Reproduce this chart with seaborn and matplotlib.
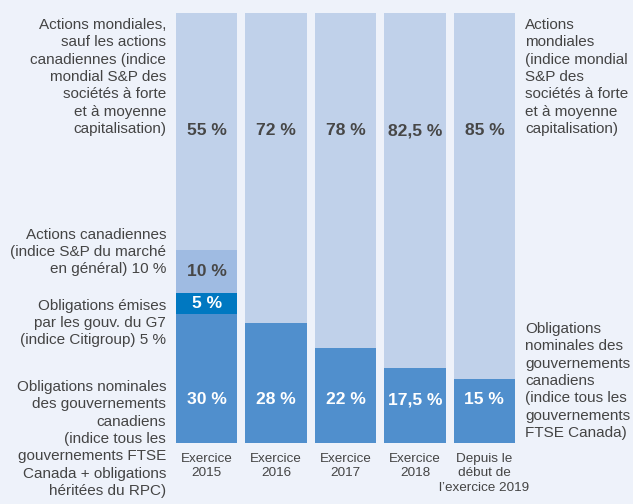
import numpy as np
import pandas as pd
import seaborn as sns
import matplotlib.pyplot as plt

# allocation data (percent)
periods = ["Exercice\n2015", "Exercice\n2016", "Exercice\n2017", "Exercice\n2018",
           "Depuis le\ndébut de\nl\u2019exercice 2019"]
bonds_cdn = [30, 28, 22, 17.5, 15]
bonds_g7 = [5, 0, 0, 0, 0]
equity_cdn = [10, 0, 0, 0, 0]
equity_world = [55, 72, 78, 82.5, 85]

df = pd.DataFrame({"period": periods, "bonds_cdn": bonds_cdn, "bonds_g7": bonds_g7,
                   "equity_cdn": equity_cdn, "equity_world": equity_world})

sns.set_style("white")
plt.rcParams['font.family'] = ['Liberation Sans', 'DejaVu Sans']

bg = "#eef2fa"
txt = "#444444"
fig = plt.figure(figsize=(6.33, 5.04), dpi=100, facecolor=bg)
ax = fig.add_axes([176 / 633, 1 - 443 / 504, (515 - 176) / 633, 430 / 504])
ax.set_facecolor(bg)

layers = [("bonds_cdn", "#508fcd"), ("bonds_g7", "#0078c1"),
          ("equity_cdn", "#9fbbe2"), ("equity_world", "#c0d1ea")]
bottom = np.zeros(len(df))
for col, color in layers:
    sns.barplot(data=df, x="period", y=col, color=color, width=0.88,
                bottom=bottom, ax=ax, saturation=1, linewidth=0)
    bottom = bottom + df[col].values

ax.set_xlim(-0.44, 4.44)
ax.set_ylim(0, 100)
ax.set_xlabel("")
ax.set_ylabel("")
ax.set_yticks([])
ax.tick_params(axis="x", length=0, pad=7, labelsize=9.7, labelcolor=txt)
for t in ax.get_xticklabels():
    t.set_linespacing(1.3)
for s in ax.spines.values():
    s.set_visible(False)


def fmt(v):
    return f"{v:g}".replace(".", ",") + " %"


pct_kw = dict(ha="center", va="center", fontsize=12.6, fontweight="bold")
for i in range(len(df)):
    ax.text(i, 72.6, fmt(equity_world[i]), color="#474747", **pct_kw)
    ax.text(i, 10, fmt(bonds_cdn[i]), color="white", **pct_kw)
    if equity_cdn[i]:
        ax.text(i, bonds_cdn[i] + bonds_g7[i] + equity_cdn[i] / 2, fmt(equity_cdn[i]),
                color="#474747", **pct_kw)
    if bonds_g7[i]:
        ax.text(i, bonds_cdn[i] + bonds_g7[i] / 2, fmt(bonds_g7[i]), color="white", **pct_kw)

lab_kw = dict(fontsize=11, color=txt, linespacing=1.3)
left_x = 166 / 633
fig.text(left_x, 1 - 77 / 504,
         "Actions mondiales,\nsauf les actions\ncanadiennes (indice\nmondial S&P des\n"
         "sociétés à forte\net à moyenne\ncapitalisation)",
         ha="right", va="center", **lab_kw)
fig.text(left_x, 1 - 252 / 504,
         "Actions canadiennes\n(indice S&P du marché\nen général) 10 %",
         ha="right", va="center", **lab_kw)
fig.text(left_x, 1 - 323 / 504,
         "Obligations émises\npar les gouv. du G7\n(indice Citigroup) 5 %",
         ha="right", va="center", **lab_kw)
fig.text(left_x, 1 - 439 / 504,
         "Obligations nominales\ndes gouvernements\ncanadiens\n(indice tous les\n"
         "gouvernements FTSE\nCanada + obligations\nhéritées du RPC)",
         ha="right", va="center", **lab_kw)

right_x = 525 / 633
fig.text(right_x, 1 - 77 / 504,
         "Actions\nmondiales\n(indice mondial\nS&P des\nsociétés à forte\n"
         "et à moyenne\ncapitalisation)",
         ha="left", va="center", **lab_kw)
fig.text(right_x, 1 - 381 / 504,
         "Obligations\nnominales des\ngouvernements\ncanadiens\n(indice tous les\n"
         "gouvernements\nFTSE Canada)",
         ha="left", va="center", **lab_kw)

fig.savefig("out.png", dpi=100, facecolor=bg)
